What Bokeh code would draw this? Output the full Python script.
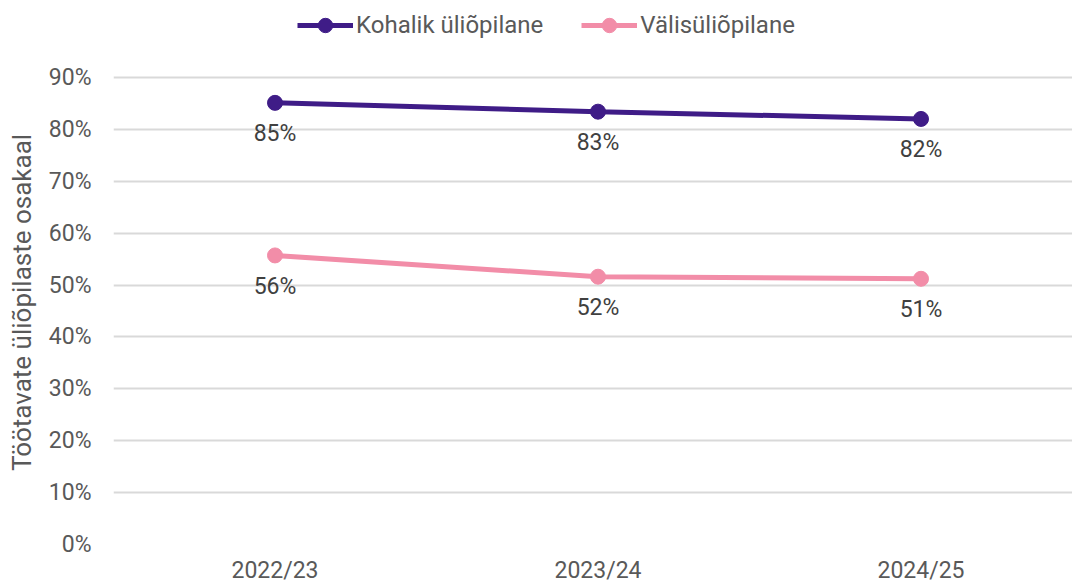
from bokeh.plotting import figure
from bokeh.layouts import column
from bokeh.models import (Range1d, FixedTicker, NumeralTickFormatter, Legend, LegendItem,
                          ColumnDataSource, LabelSet)
from bokeh.core.properties import value
from bokeh.embed import file_html
from bokeh.resources import INLINE

years = ["2022/23", "2023/24", "2024/25"]
kohalik = [0.851, 0.834, 0.820]
valis = [0.557, 0.516, 0.512]
kohalik_labels = ["85%", "83%", "82%"]
valis_labels = ["56%", "52%", "51%"]
series_names = ["Kohalik üliõpilane", "Välisüliõpilane"]
y_ticks = [0.0, 0.1, 0.2, 0.3, 0.4, 0.5, 0.6, 0.7, 0.8, 0.9]

FONT = "Roboto"
PURPLE = "#3F1C87"
PINK = "#F28DA8"
TXT = "#595959"
FS = "23px"

xs = list(range(len(years)))
src_k = ColumnDataSource(dict(x=xs, y=kohalik, lab=kohalik_labels))
src_v = ColumnDataSource(dict(x=xs, y=valis, lab=valis_labels))

# ---- legend strip on top (its ranges show no data; it only hosts the legend) ----
leg = figure(width=1072, height=60, output_backend="svg", toolbar_location=None,
             x_axis_type=None, y_axis_type=None,
             x_range=Range1d(10, 11), y_range=Range1d(10, 11),
             min_border_left=0, min_border_right=0, min_border_top=0, min_border_bottom=0)
leg.outline_line_color = None
leg.background_fill_color = "white"
leg.border_fill_color = "white"
items = []
for name, col, src in zip(series_names, (PURPLE, PINK), (src_k, src_v)):
    r1 = leg.line("x", "y", source=src, line_color=col, line_width=5)
    r2 = leg.scatter("x", "y", source=src, size=15, fill_color=col, line_color=col)
    items.append(LegendItem(label=name, renderers=[r1, r2]))
legend = Legend(items=items, orientation="horizontal", location=(184, 17),
                label_text_font=FONT, label_text_font_size="24px", label_text_color=TXT,
                glyph_width=56, glyph_height=36, label_standoff=3, spacing=38,
                border_line_color=None, background_fill_alpha=0, padding=0, margin=0)
leg.add_layout(legend, "center")

# ---- main chart ----
p = figure(width=1072, height=526, output_backend="svg", toolbar_location=None,
           x_range=Range1d(-0.5, 2.469), y_range=Range1d(0, 0.9326),
           min_border_left=113, min_border_right=0, min_border_top=0, min_border_bottom=42)
p.outline_line_color = None
p.background_fill_color = "white"
p.border_fill_color = "white"

p.xgrid.grid_line_color = None
p.ygrid.grid_line_color = "#D9D9D9"
p.ygrid.grid_line_width = 2

p.xaxis.ticker = FixedTicker(ticks=xs)
p.xaxis.major_label_overrides = {i: y for i, y in enumerate(years)}
p.yaxis.ticker = FixedTicker(ticks=y_ticks)
p.yaxis.formatter = NumeralTickFormatter(format="0%")
for ax in (p.xaxis, p.yaxis):
    ax.axis_line_color = None
    ax.major_tick_line_color = None
    ax.minor_tick_line_color = None
    ax.major_tick_out = 0
    ax.major_tick_in = 0
    ax.minor_tick_out = 0
    ax.minor_tick_in = 0
    ax.major_label_text_font = FONT
    ax.major_label_text_font_size = FS
    ax.major_label_text_color = TXT
p.xaxis.major_label_standoff = 12
p.yaxis.major_label_standoff = 22
p.yaxis.axis_label = "Töötavate üliõpilaste osakaal"
p.yaxis.axis_label_text_font = FONT
p.yaxis.axis_label_text_font_size = "26px"
p.yaxis.axis_label_text_font_style = "normal"
p.yaxis.axis_label_text_color = TXT
p.yaxis.axis_label_standoff = 9

p.line("x", "y", source=src_k, line_color=PURPLE, line_width=5)
p.scatter("x", "y", source=src_k, size=15, fill_color=PURPLE, line_color=PURPLE)
p.line("x", "y", source=src_v, line_color=PINK, line_width=5)
p.scatter("x", "y", source=src_v, size=15, fill_color=PINK, line_color=PINK)

for src in (src_k, src_v):
    p.add_layout(LabelSet(x="x", y="y", text="lab", source=src, y_offset=-31,
                          text_align="center", text_baseline="middle",
                          text_font=value(FONT), text_font_size=FS, text_color="#404040"))

layout = column(leg, p, spacing=0)
open("out.html", "w").write(file_html(layout, INLINE))
